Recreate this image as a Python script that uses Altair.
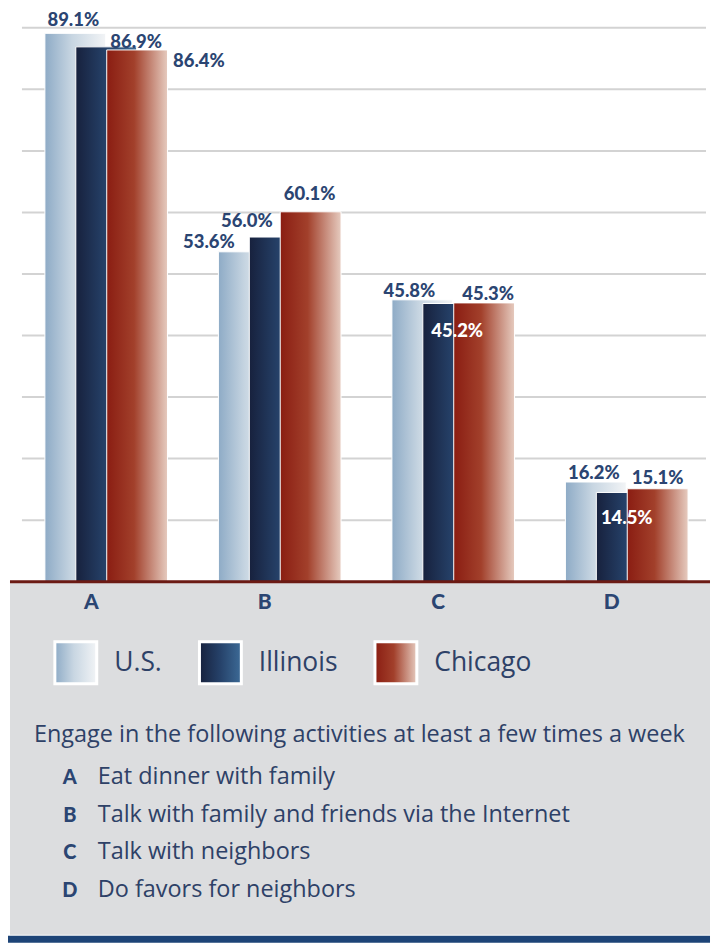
import altair as alt
import pandas as pd

# ---------------- data ----------------
activities = ["A", "B", "C", "D"]
activity_text = [
    "Eat dinner with family",
    "Talk with family and friends via the Internet",
    "Talk with neighbors",
    "Do favors for neighbors",
]
series = ["U.S.", "Illinois", "Chicago"]
us_values = [89.1, 53.6, 45.8, 16.2]
illinois_values = [86.9, 56.0, 45.2, 14.5]
chicago_values = [86.4, 60.1, 45.3, 15.1]
grid_ticks = [10, 20, 30, 40, 50, 60, 70, 80, 90]
description = "Engage in the following activities at least a few times a week"

# label nudges (pixels, relative to the top-centre of each bar), to avoid overlaps
label_dx = {
    "U.S.": [-2, -40, -13, -2],
    "Illinois": [30, -33, 4, 0],
    "Chicago": [62, -1, 4, 0],
}
label_dy = {
    "U.S.": [-13, -10, -9, -9],
    "Illinois": [-5, -16, 28, 26],
    "Chicago": [11, -18, -9, -11],
}

values_by_series = {"U.S.": us_values, "Illinois": illinois_values, "Chicago": chicago_values}
rows = []
for i, act in enumerate(activities):
    for s in series:
        v = values_by_series[s][i]
        rows.append({
            "activity": act, "series": s, "value": v, "label": f"{v:.1f}%",
            "ldx": label_dx[s][i], "ldy": label_dy[s][i],
        })
df = pd.DataFrame(rows)
grid_df = pd.DataFrame({"tick": grid_ticks})
act_df = pd.DataFrame({"activity": activities, "text": activity_text})
desc_df = pd.DataFrame({"text": [description]})

# ---------------- styling ----------------
NAVY = "#2b4572"
TEXT = "#2e4167"
GRAY = "#dcdddf"
FONT_BOLD = "Lato"
FONT_TEXT = "Open Sans"
W = 704


def grad(stops):
    parts = ", ".join("{offset: %s, color: '%s'}" % (o, c) for o, c in stops)
    return "{gradient: 'linear', x1: 0, y1: 0, x2: 1, y2: 0, stops: [" + parts + "]}"


gradients = [
    grad([(0, "#8eabc6"), (0.45, "#c8d6e2"), (1, "#f2f4f6")]),
    grad([(0, "#17213d"), (0.5, "#26426a"), (1, "#3d6b97")]),
    grad([(0, "#8a1d12"), (0.45, "#a2402b"), (1, "#e6cbbf")]),
]

x_scale = alt.Scale(domain=activities, range=[11.5, 707.5], paddingInner=0, paddingOuter=0)
xo_scale = alt.Scale(domain=series, range=[40.5, 133.5], paddingInner=0, paddingOuter=0)
y_scale = alt.Scale(domain=[0, 93], nice=False, zero=True)

x_enc = alt.X("activity:N", scale=x_scale, axis=None)
xo_enc = alt.XOffset("series:N", scale=xo_scale)
y_enc = alt.Y("value:Q", scale=y_scale, axis=None)

grid = alt.Chart(grid_df).mark_rule(color="#d3d3d3", strokeWidth=2).encode(
    y=alt.Y("tick:Q", scale=y_scale, axis=None),
    x=alt.value(14),
    x2=alt.value(700),
)

bars = alt.Chart(df).mark_bar(width=61, stroke="white", strokeWidth=1).encode(
    x=x_enc,
    xOffset=xo_enc,
    y=y_enc,
    fill=alt.Fill(
        "series:N",
        title=None,
        scale=alt.Scale(domain=series, range=[{"expr": g} for g in gradients]),
        legend=alt.Legend(
            orient="none", legendX=45.5, legendY=632.5, direction="horizontal",
            symbolType="square", symbolSize=1764, symbolStrokeColor="white",
            symbolStrokeWidth=3, symbolOpacity=1,
            labelFont=FONT_TEXT, labelFontSize=26.5, labelColor=TEXT, labelOffset=16,
            columnPadding=31, padding=0, offset=0,
        ),
    ),
)

labels = alt.Chart(df).mark_text(
    font=FONT_BOLD, fontWeight=900, fontSize=18.5, baseline="middle", align="center",
    dx={"expr": "datum.ldx"}, dy={"expr": "datum.ldy"},
).encode(
    x=x_enc,
    xOffset=xo_enc,
    y=y_enc,
    text="label:N",
    color=alt.condition("datum.series == 'Illinois' && datum.value < 50",
                        alt.value("white"), alt.value(NAVY)),
)

top = alt.layer(grid, bars, labels).properties(width=W, height=574)

# ---------------- bottom panel ----------------
panel = alt.Chart(desc_df).mark_rect(color=GRAY).encode(
    x=alt.value(2), x2=alt.value(W), y=alt.value(0), y2=alt.value(354)
)
band = alt.Chart(desc_df).mark_rect(color="#1d4477").encode(
    x=alt.value(0), x2=alt.value(W), y=alt.value(355), y2=alt.value(362)
)
baseline = alt.Chart(desc_df).mark_rule(color="#6b1a14", strokeWidth=3).encode(
    x=alt.value(2), x2=alt.value(W), y=alt.value(0)
)
xlabels = alt.Chart(act_df).mark_text(
    font=FONT_BOLD, fontWeight=900, fontSize=21, color=NAVY, dx=-15, baseline="middle"
).encode(
    x=alt.X("activity:N", scale=x_scale, axis=None),
    y=alt.value(21),
    text="activity:N",
)
desc = alt.Chart(desc_df).mark_text(
    font=FONT_TEXT, fontSize=23.5, color=TEXT, align="left", baseline="alphabetic"
).encode(x=alt.value(26), y=alt.value(161), text="text:N")

list_y = alt.Y("activity:N", scale=alt.Scale(domain=activities, type="point", range=[203, 316], padding=0), axis=None)
letters = alt.Chart(act_df).mark_text(
    font=FONT_BOLD, fontWeight=900, fontSize=20, color=NAVY, align="center", baseline="alphabetic"
).encode(x=alt.value(62), y=list_y, text="activity:N")
items = alt.Chart(act_df).mark_text(
    font=FONT_TEXT, fontSize=23.5, color=TEXT, align="left", baseline="alphabetic"
).encode(x=alt.value(90), y=list_y, text="text:N")

bottom = alt.layer(panel, band, baseline, xlabels, desc, letters, items).properties(width=W, height=362)

chart = alt.vconcat(top, bottom, spacing=0, bounds="flush").properties(
    padding=0, background="white"
).configure_view(strokeWidth=0)

chart.save("out.html", embed_options={"renderer": "svg", "actions": False})
